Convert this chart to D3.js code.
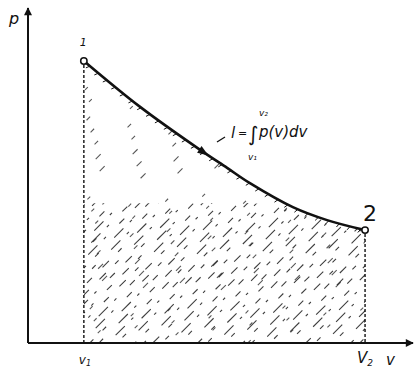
<!DOCTYPE html>
<html>
<head>
<meta charset="utf-8">
<script src="https://cdn.jsdelivr.net/npm/d3@7"></script>
<style>
  body { margin: 0; background: #fff; }
  text { font-family: "DejaVu Sans", sans-serif; font-style: italic; fill: #111; }
</style>
</head>
<body>
<div id="chart"></div>
<script>
// process curve 1 -> 2 (arbitrary v, p units)
const volume = [1.47, 2.95, 4.53, 5.24, 5.84, 6.97, 7.87, 8.87];
const pressure = [8.47, 7.09, 5.80, 5.26, 4.80, 4.08, 3.69, 3.39];
const pointLabels = ['1', '2'];
const hatchTop = 4.2;   // hatching is dense below this pressure

const width = 417, height = 371;

const svg = d3.select('#chart').append('svg')
  .attr('width', width)
  .attr('height', height);

const x = d3.scaleLinear().domain([0, 10]).range([28, 408]);
const y = d3.scaleLinear().domain([0, 10]).range([343, 10]);

const pts = volume.map((v, i) => ({v: v, p: pressure[i]}));
const v1 = volume[0], v2 = volume[volume.length - 1];

const defs = svg.append('defs');

defs.append('marker')
  .attr('id', 'axarrow')
  .attr('viewBox', '0 0 10 10')
  .attr('refX', 9).attr('refY', 5)
  .attr('markerWidth', 5).attr('markerHeight', 4)
  .attr('markerUnits', 'strokeWidth')
  .attr('orient', 'auto')
  .append('path')
  .attr('d', 'M0,0 L10,5 L0,10 z')
  .attr('fill', '#111');

const line = d3.line()
  .x(d => x(d.v))
  .y(d => y(d.p))
  .curve(d3.curveCatmullRom);

const area = d3.area()
  .x(d => x(d.v))
  .y0(y(0))
  .y1(d => y(Math.min(d.p, hatchTop)))
  .curve(d3.curveCatmullRom);

const areaFull = d3.area()
  .x(d => x(d.v))
  .y0(y(0))
  .y1(d => y(d.p))
  .curve(d3.curveCatmullRom);

defs.append('clipPath').attr('id', 'dense')
  .append('path').attr('d', area(pts));
defs.append('clipPath').attr('id', 'sparse')
  .append('path').attr('d', areaFull(pts));

// diagonal hatching, broken up like the print
function hatch(clip, step, dash, opacity) {
  const g = svg.append('g').attr('clip-path', 'url(#' + clip + ')');
  const x0 = x(v1) - 300, x1 = x(v2);
  for (let s = x0, k = 0; s < x1; s += step, k++) {
    g.append('line')
      .attr('x1', s).attr('y1', y(0))
      .attr('x2', s + 300).attr('y2', y(0) - 300)
      .attr('stroke', '#222')
      .attr('stroke-width', 1.1)
      .attr('stroke-dasharray', dash)
      .attr('stroke-dashoffset', (k * 17) % 41)
      .attr('opacity', opacity);
  }
}
hatch('dense', 9, '9 13 5 22 13 9 3 19 7 15', 0.85);
hatch('sparse', 16, '5 45 4 60 7 38', 0.75);

// dashed verticals at v1 and v2
svg.append('line')
  .attr('x1', x(v1)).attr('x2', x(v1))
  .attr('y1', y(pressure[0]) + 4).attr('y2', y(0))
  .attr('stroke', '#111').attr('stroke-width', 1.4)
  .attr('stroke-dasharray', '3 2');
svg.append('line')
  .attr('x1', x(v2)).attr('x2', x(v2))
  .attr('y1', y(pressure[pressure.length - 1]) + 4).attr('y2', y(0))
  .attr('stroke', '#111').attr('stroke-width', 1.4)
  .attr('stroke-dasharray', '3 2');

// curve
const curve = svg.append('path')
  .attr('d', line(pts))
  .attr('fill', 'none')
  .attr('stroke', '#111')
  .attr('stroke-width', 2.6);

// small ticks under the curve
const node = curve.node();
const len = node.getTotalLength();
for (let l = 8; l < len - 4; l += 11) {
  const a = node.getPointAtLength(l);
  const b = node.getPointAtLength(l + 1);
  const dx = b.x - a.x, dy = b.y - a.y;
  const n = Math.hypot(dx, dy);
  svg.append('line')
    .attr('x1', a.x).attr('y1', a.y)
    .attr('x2', a.x - dy / n * 4 - dx / n * 2).attr('y2', a.y + dx / n * 4 - dy / n * 2)
    .attr('stroke', '#111').attr('stroke-width', 1);
}

// direction arrow on the curve
const at = node.getPointAtLength(len * 0.46);
const at2 = node.getPointAtLength(len * 0.46 + 1);
const ang = Math.atan2(at2.y - at.y, at2.x - at.x) * 180 / Math.PI;
svg.append('path')
  .attr('d', 'M4,0 L-7,-4 L-7,4 z')
  .attr('fill', '#111')
  .attr('transform', 'translate(' + at.x + ',' + at.y + ') rotate(' + ang + ')');

// axes
svg.append('line')
  .attr('x1', x(0)).attr('y1', y(0))
  .attr('x2', x(0)).attr('y2', 8)
  .attr('stroke', '#111').attr('stroke-width', 2)
  .attr('marker-end', 'url(#axarrow)');
svg.append('line')
  .attr('x1', x(0)).attr('y1', y(0))
  .attr('x2', 413).attr('y2', y(0))
  .attr('stroke', '#111').attr('stroke-width', 2)
  .attr('marker-end', 'url(#axarrow)');

// end points
[pts[0], pts[pts.length - 1]].forEach(d => {
  svg.append('circle')
    .attr('cx', x(d.v)).attr('cy', y(d.p))
    .attr('r', 3.2)
    .attr('fill', '#fff')
    .attr('stroke', '#111')
    .attr('stroke-width', 1.5);
});

svg.append('text').attr('x', x(v1) - 4).attr('y', y(pressure[0]) - 15)
  .attr('font-size', 11).text(pointLabels[0]);
svg.append('text').attr('x', x(v2) - 2).attr('y', y(pressure[pressure.length - 1]) - 9)
  .attr('font-size', 22).style('font-style', 'normal').text(pointLabels[1]);

// axis labels
svg.append('text').attr('x', 9).attr('y', 24).attr('font-size', 16).text('p');
svg.append('text').attr('x', 386).attr('y', 365).attr('font-size', 15).text('v');
svg.append('text').attr('x', x(v1) - 5).attr('y', 364).attr('font-size', 12)
  .text('v').append('tspan').attr('font-size', 8).attr('dy', 2).text('1');
svg.append('text').attr('x', x(v2) - 8).attr('y', 363).attr('font-size', 15)
  .text('V').append('tspan').attr('font-size', 9).attr('dy', 3).text('2');

// work integral label
svg.append('line')
  .attr('x1', 217).attr('y1', 142).attr('x2', 225).attr('y2', 137)
  .attr('stroke', '#111').attr('stroke-width', 1.3);
svg.append('text').attr('x', 231).attr('y', 138).attr('font-size', 15).text('l');
svg.append('text').attr('x', 238).attr('y', 137).attr('font-size', 11).text('=');
svg.append('text').attr('x', 248).attr('y', 141).attr('font-size', 20).text('\u222B');
svg.append('text').attr('x', 259).attr('y', 137).attr('font-size', 15).text('p(v)dv');
svg.append('text').attr('x', 259).attr('y', 116).attr('font-size', 9).text('v\u2082');
svg.append('text').attr('x', 248).attr('y', 160).attr('font-size', 9).text('v\u2081');
</script>
</body>
</html>
